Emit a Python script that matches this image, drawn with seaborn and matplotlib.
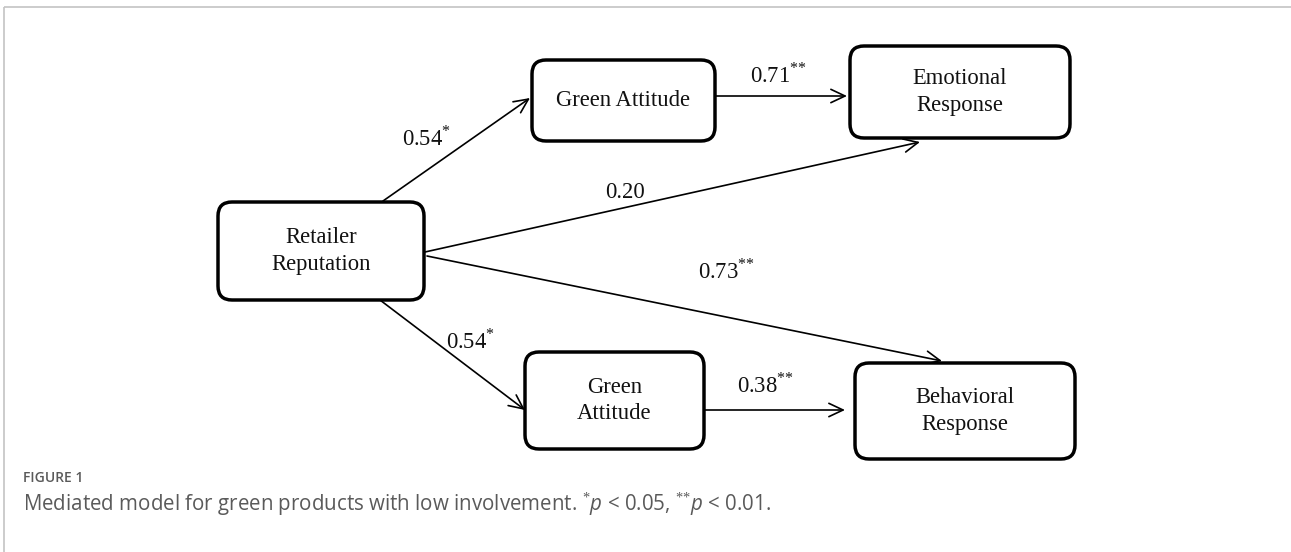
import matplotlib
matplotlib.use("Agg")
import matplotlib.pyplot as plt
from matplotlib.patches import FancyBboxPatch
import seaborn as sns

# Nodes of the path model (pixel boxes, y from top)
node_labels = ["Retailer\nReputation", "Green Attitude", "Emotional\nResponse",
               "Green\nAttitude", "Behavioral\nResponse"]
node_left = [218, 532, 850, 525, 855]
node_top = [202, 60, 46, 352, 363]
node_right = [424, 715, 1070, 704, 1075]
node_bottom = [300, 141, 138, 449, 459]

# Paths: start point, end point, coefficient, significance stars, label anchor
edge_x0 = [383, 715, 425, 427, 380, 704]
edge_y0 = [201, 96, 252, 256, 300, 410]
edge_x1 = [530, 847, 920, 942, 525, 845]
edge_y1 = [98, 96, 142, 361, 410, 410]
edge_coef = ["0.54", "0.71", "0.20", "0.73", "0.54", "0.38"]
edge_stars = ["*", "**", "", "**", "*", "**"]
label_x = [402, 750, 605, 698, 446, 737]
label_y = [138, 75, 193, 271, 341, 385]

fig_label = "FIGURE 1"
caption = ("Mediated model for green products with low involvement. "
           "$^{*}p$ < 0.05, $^{*{*}}p$ < 0.01.")


def stars_tex(st):
    # nested braces keep mathtext from spacing the asterisks as operators
    if not st:
        return ""
    return "$^{" + st[0] + "".join("{" + c + "}" for c in st[1:]) + "}$"


sns.set_theme(style="white")
plt.rcParams["font.family"] = ["Liberation Serif", "DejaVu Serif"]
plt.rcParams["mathtext.fontset"] = "custom"
plt.rcParams["mathtext.rm"] = "Liberation Serif"
plt.rcParams["mathtext.it"] = "Open Sans:italic"

fig = plt.figure(figsize=(12.91, 5.52), dpi=100)
ax = fig.add_axes([0, 0, 1, 1])
ax.set_xlim(0, 1291)
ax.set_ylim(552, 0)
ax.axis("off")

# outer frame (top and left rule)
ax.plot([4, 1291], [7, 7], color="#c4c4c4", lw=1.2, solid_capstyle="butt")
ax.plot([4, 4], [7, 552], color="#c4c4c4", lw=1.2, solid_capstyle="butt")

for lab, l, t, r, b in zip(node_labels, node_left, node_top, node_right, node_bottom):
    box = FancyBboxPatch((l, t), r - l, b - t,
                         boxstyle="round,pad=0,rounding_size=14",
                         fc="white", ec="black", lw=2.5, zorder=3)
    ax.add_patch(box)
    ax.text((l + r) / 2, (t + b) / 2, lab, ha="center", va="center",
            fontsize=16.3, linespacing=1.32, color="#111111", zorder=4)

for x0, y0, x1, y1 in zip(edge_x0, edge_y0, edge_x1, edge_y1):
    ax.annotate("", xy=(x1, y1), xytext=(x0, y0),
                arrowprops=dict(arrowstyle="->,head_length=0.85,head_width=0.4",
                                mutation_scale=12, lw=1.2, color="black",
                                shrinkA=0, shrinkB=0), zorder=2)

for coef, st, x, y in zip(edge_coef, edge_stars, label_x, label_y):
    ax.text(x, y, coef + stars_tex(st), ha="left", va="center",
            fontsize=16.3, color="#111111")

ax.text(23, 478, fig_label, ha="left", va="center", fontsize=10,
        family="Open Sans", color="#5a5a5a", fontweight="semibold")
ax.text(23, 504, caption, ha="left", va="center", fontsize=14.8,
        family="Open Sans", color="#5a5a5a")

fig.savefig("out.png", dpi=100)
